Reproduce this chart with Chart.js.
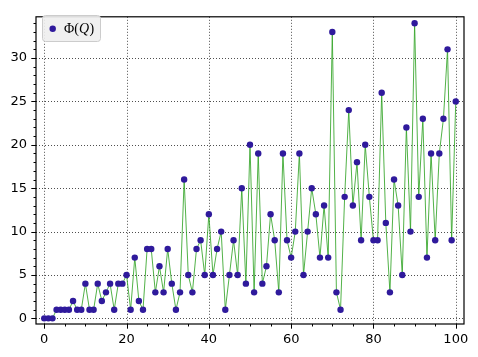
<!DOCTYPE html>
<html>
<head>
<meta charset="utf-8">
<script src="https://cdn.jsdelivr.net/npm/chart.js@4"></script>
<style>
  html, body { margin: 0; padding: 0; background: #fff; }
  #wrap { width: 478px; height: 357px; }
</style>
</head>
<body>
<div id="wrap"><canvas id="phiChart" width="478" height="357"></canvas></div>
<script>
// Q on the x axis, Phi(Q) on the y axis
const qValues = [
  0, 1, 2, 3, 4, 5, 6, 7, 8, 9, 10, 11, 12, 13, 14, 15, 16, 17, 18, 19, 20,
  21, 22, 23, 24, 25, 26, 27, 28, 29, 30, 31, 32, 33, 34, 35, 36, 37, 38, 39, 40,
  41, 42, 43, 44, 45, 46, 47, 48, 49, 50, 51, 52, 53, 54, 55, 56, 57, 58, 59, 60,
  61, 62, 63, 64, 65, 66, 67, 68, 69, 70, 71, 72, 73, 74, 75, 76, 77, 78, 79, 80,
  81, 82, 83, 84, 85, 86, 87, 88, 89, 90, 91, 92, 93, 94, 95, 96, 97, 98, 99, 100
];
const phiValues = [
  0, 0, 0, 1, 1, 1, 1, 2, 1, 1, 4, 1, 1, 4, 2, 3, 4, 1, 4, 4, 5,
  1, 7, 2, 1, 8, 8, 3, 6, 3, 8, 4, 1, 3, 16, 5, 3, 8, 9, 5, 12,
  5, 8, 10, 1, 5, 9, 5, 15, 4, 20, 3, 19, 4, 6, 12, 9, 3, 19, 9, 7,
  10, 19, 5, 10, 15, 12, 7, 13, 7, 33, 3, 1, 14, 24, 13, 18, 9, 20, 14, 9,
  9, 26, 11, 3, 16, 13, 5, 22, 10, 34, 14, 23, 7, 19, 9, 19, 23, 31, 9, 25
];
const xTickLabels = [0, 20, 40, 60, 80, 100];
const yTickLabels = [0, 5, 10, 15, 20, 25, 30];
const xMinorStep = 5;
const yMinorStep = 1;

const markerColor = '#2f1a9c';
const lineColor = 'rgba(52, 165, 40, 0.85)';

const points = qValues.map((q, i) => ({ x: q, y: phiValues[i] }));

// grid, frame, tick marks and the legend box, drawn like a matplotlib axes
const axesDecor = {
  id: 'axesDecor',
  beforeDatasetsDraw(chart) {
    const { ctx, chartArea: a, scales } = chart;
    ctx.save();
    ctx.strokeStyle = '#222';
    ctx.lineWidth = 0.8;
    ctx.setLineDash([1, 2]);
    xTickLabels.forEach(v => {
      const px = Math.round(scales.x.getPixelForValue(v)) + 0.5;
      ctx.beginPath(); ctx.moveTo(px, a.top); ctx.lineTo(px, a.bottom); ctx.stroke();
    });
    yTickLabels.forEach(v => {
      const py = Math.round(scales.y.getPixelForValue(v)) + 0.5;
      ctx.beginPath(); ctx.moveTo(a.left, py); ctx.lineTo(a.right, py); ctx.stroke();
    });
    ctx.restore();
  },
  afterDatasetsDraw(chart) {
    const { ctx, chartArea: a, scales } = chart;
    ctx.save();
    ctx.strokeStyle = '#000';
    ctx.setLineDash([]);
    ctx.lineWidth = 1;
    // minor ticks
    for (let v = 0; v <= scales.x.max; v += xMinorStep) {
      const px = Math.round(scales.x.getPixelForValue(v)) + 0.5;
      ctx.beginPath(); ctx.moveTo(px, a.bottom); ctx.lineTo(px, a.bottom + 2.5); ctx.stroke();
    }
    for (let v = 0; v <= scales.y.max; v += yMinorStep) {
      const py = Math.round(scales.y.getPixelForValue(v)) + 0.5;
      ctx.beginPath(); ctx.moveTo(a.left, py); ctx.lineTo(a.left - 2.5, py); ctx.stroke();
    }
    // major ticks
    xTickLabels.forEach(v => {
      const px = Math.round(scales.x.getPixelForValue(v)) + 0.5;
      ctx.beginPath(); ctx.moveTo(px, a.bottom); ctx.lineTo(px, a.bottom + 4.7); ctx.stroke();
    });
    yTickLabels.forEach(v => {
      const py = Math.round(scales.y.getPixelForValue(v)) + 0.5;
      ctx.beginPath(); ctx.moveTo(a.left, py); ctx.lineTo(a.left - 4.7, py); ctx.stroke();
    });
    // frame
    ctx.lineWidth = 1.2;
    ctx.strokeRect(a.left, a.top, a.right - a.left, a.bottom - a.top);

    // legend
    const bx = 42.5, by = 15.5, bw = 58, bh = 26;
    ctx.beginPath();
    ctx.roundRect(bx, by, bw, bh, 3);
    ctx.fillStyle = 'rgba(238, 238, 238, 0.9)';
    ctx.fill();
    ctx.strokeStyle = '#cccccc';
    ctx.lineWidth = 1;
    ctx.stroke();
    ctx.fillStyle = markerColor;
    ctx.beginPath(); ctx.arc(52.7, 28.7, 3.2, 0, Math.PI * 2); ctx.fill();
    ctx.fillStyle = '#000';
    ctx.textBaseline = 'alphabetic';
    ctx.textAlign = 'left';
    let tx = 64;
    const base = 33;
    ctx.font = '14px "Liberation Serif"';
    ctx.fillText('Φ(', tx, base);
    tx += ctx.measureText('Φ(').width;
    ctx.font = 'italic 14px "Liberation Serif"';
    ctx.fillText('Q', tx, base);
    tx += ctx.measureText('Q').width + 0.5;
    ctx.font = '14px "Liberation Serif"';
    ctx.fillText(')', tx, base);
    ctx.restore();
  }
};

const ctx = document.getElementById('phiChart').getContext('2d');
new Chart(ctx, {
  type: 'scatter',
  data: {
    datasets: [{
      label: 'Φ(Q)',
      data: points,
      showLine: true,
      borderColor: lineColor,
      borderWidth: 1,
      pointBackgroundColor: markerColor,
      pointBorderColor: markerColor,
      pointBorderWidth: 0,
      pointRadius: 3.2,
      pointHoverRadius: 3.2
    }]
  },
  options: {
    responsive: false,
    animation: false,
    events: [],
    layout: { padding: { top: 9, right: 14, left: 0, bottom: 0 } },
    plugins: { legend: { display: false }, tooltip: { enabled: false } },
    scales: {
      x: {
        type: 'linear',
        min: -2,
        max: 102,
        grid: { display: false, drawTicks: false },
        border: { display: false },
        afterBuildTicks: scale => { scale.ticks = xTickLabels.map(v => ({ value: v })); },
        afterFit: scale => { scale.height = 33; },
        ticks: {
          color: '#000',
          padding: 8,
          maxRotation: 0,
          font: { family: '"DejaVu Sans"', size: 13 }
        }
      },
      y: {
        type: 'linear',
        min: -0.65,
        max: 34.75,
        grid: { display: false, drawTicks: false },
        border: { display: false },
        afterBuildTicks: scale => { scale.ticks = yTickLabels.map(v => ({ value: v })); },
        afterFit: scale => { scale.width = 36; },
        ticks: {
          color: '#000',
          padding: 9,
          font: { family: '"DejaVu Sans"', size: 13 }
        }
      }
    }
  },
  plugins: [axesDecor]
});
</script>
</body>
</html>
